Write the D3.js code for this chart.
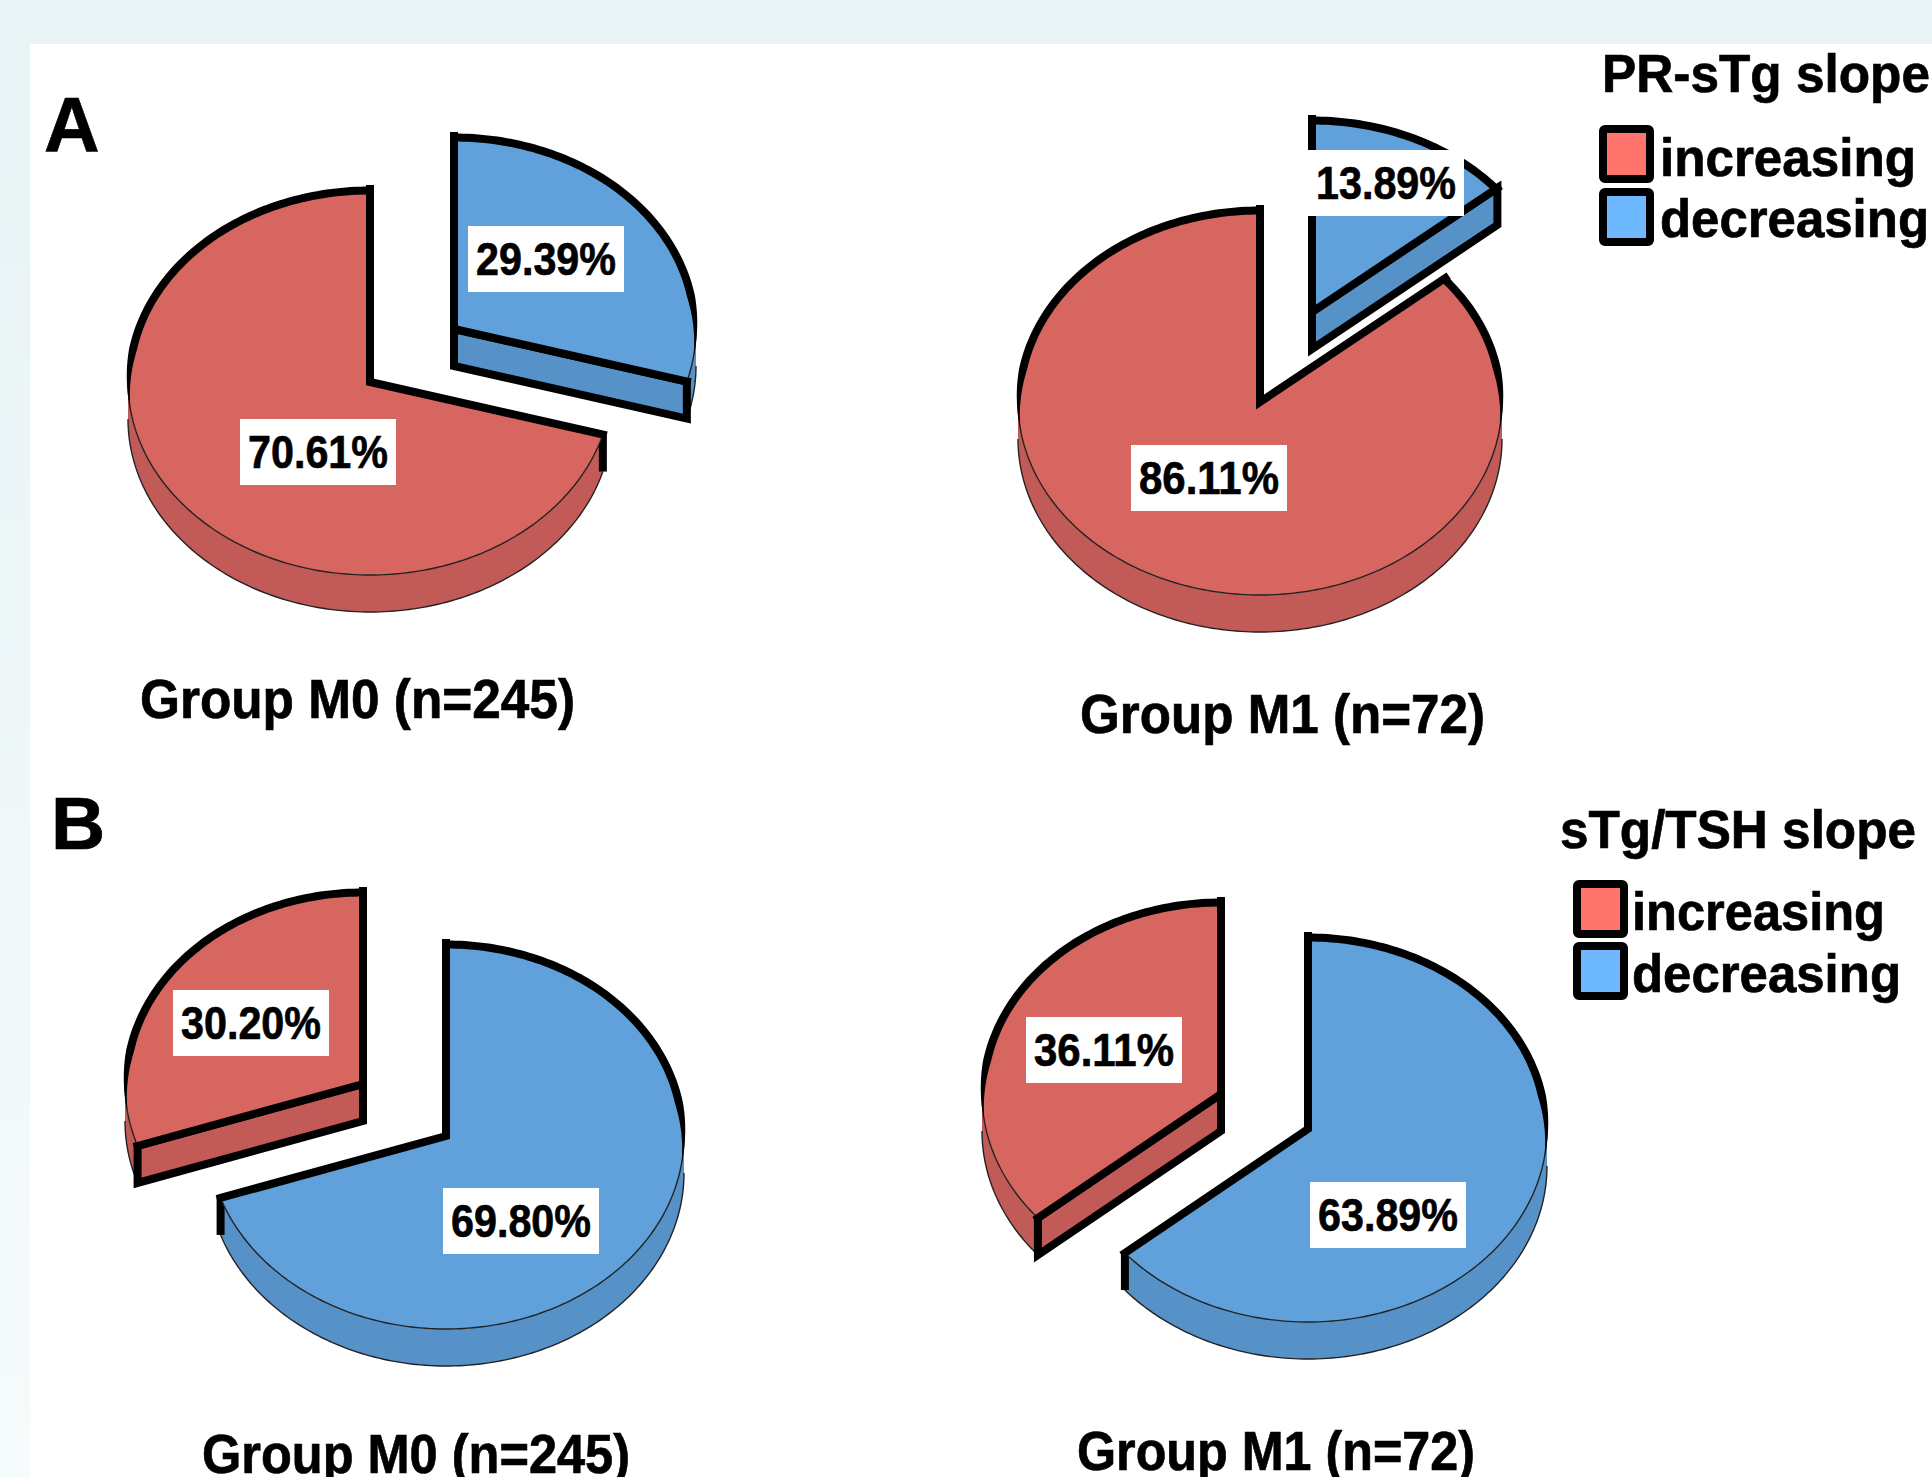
<!DOCTYPE html>
<html>
<head>
<meta charset="utf-8">
<title>PR-sTg and sTg/TSH slope by group</title>
<script src="https://cdn.jsdelivr.net/npm/d3@7/dist/d3.min.js"></script>
<style>
  html, body { margin: 0; padding: 0; background: #fff; overflow: hidden; }
  svg { display: block; }
  text { font-family: "Liberation Sans", Arial, sans-serif; font-weight: 700; fill: #000; stroke: #000; stroke-width: 0.7; }
</style>
</head>
<body>
<svg id="chart" width="1932" height="1477"></svg>
<script>
// Values, in the order the four pies are drawn: panel A M0, A M1, panel B M0, B M1
const pieTitles = ["Group M0 (n=245)", "Group M1 (n=72)", "Group M0 (n=245)", "Group M1 (n=72)"];
const decreasingShare = [29.39, 13.89, 69.80, 63.89];
const increasingShare = [70.61, 86.11, 30.20, 36.11];
const slopeClasses = ["increasing", "decreasing"];
const legendTitles = ["PR-sTg slope", "sTg/TSH slope"];
const panelLetters = ["A", "B"];

// Layout: pie centres, how far the small slice is pulled out, and label anchors
const RY = 193, DEPTH = 37;
const pieLayout = [
  { cx: 370,  cy: 382,  rx: 242, pull: [84, -53],  pulled: 0, labels: [[546, 259], [318, 452]],  title: [140, 718, 435] },
  { cx: 1260, cy: 402,  rx: 242, pull: [52, -90],  pulled: 0, labels: [[1386, 183], [1209, 478]], title: [1080, 733, 405] },
  { cx: 446,  cy: 1136, rx: 238, pull: [-83, -52], pulled: 1, labels: [[521, 1221], [251, 1023]], title: [202, 1473, 428] },
  { cx: 1308, cy: 1129, rx: 239, pull: [-87, -35], pulled: 1, labels: [[1388, 1215], [1104, 1050]], title: [1077, 1470, 398] }
];
const legendLayout = [
  { title: [1602, 92, 328],  swatchX: 1603, swatchW: 47, rows: [[129, 1660, 176, 256], [192, 1660, 237, 269]] },
  { title: [1560, 848, 356], swatchX: 1577, swatchW: 47, rows: [[884, 1632, 930, 253], [946, 1632, 992, 269]] }
];
const letterLayout = [[44, 152, 77], [51, 849, 75]];

const topFill   = { increasing: "#d86660", decreasing: "#60a1db" };
const wallFill  = { increasing: "#c25b58", decreasing: "#5691c8" };
const keyFill   = { increasing: "#ff756e", decreasing: "#6eb8ff" };
const THICK = 8, THIN = 1.4;
const RIM_OUT = 2.5, RIM_IN = 5.5;   // heavy rim line either side of the ellipse
const deg = Math.PI / 180;
const RIM_OVERRUN = 8 * deg, RIM_TAPER = 18 * deg;

const svg = d3.select("#chart");
const defs = svg.append("defs");
const grad = defs.append("linearGradient").attr("id", "pageTint")
  .attr("x1", 0).attr("y1", 0).attr("x2", 0).attr("y2", 1);
grad.append("stop").attr("offset", "0%").attr("stop-color", "#e7f3f5");
grad.append("stop").attr("offset", "100%").attr("stop-color", "#f6fbfc");

svg.append("rect").attr("width", 1932).attr("height", 1477).attr("fill", "url(#pageTint)");
svg.append("rect").attr("x", 30).attr("y", 44).attr("width", 1902).attr("height", 1433).attr("fill", "#fff");

const pie = d3.pie().sort(null).value(d => d.value).startAngle(0).endAngle(2 * Math.PI);
const unitArc = d3.arc().innerRadius(0).outerRadius(1);
const line = d3.line();
const HALF = Math.PI / 2, LOWER_END = 3 * Math.PI / 2;

function drawSlice(g, cx, cy, rx, slice) {
  const cls = slice.data.cls;
  const a0 = slice.startAngle, a1 = slice.endAngle;
  const at = (a, grow = 0, dz = 0) => [
    cx + (rx + grow) * Math.sin(a),
    cy - (RY + grow) * Math.cos(a) + dz
  ];
  const angles = (from, to) => {
    const n = Math.max(2, Math.ceil((to - from) / 0.02));
    return d3.range(n + 1).map(i => from + (to - from) * i / n);
  };
  const sweep = (from, to, dz = 0) => angles(from, to).map(a => at(a, 0, dz));
  const apex = [cx, cy];
  const apexLow = [cx, cy + DEPTH];

  // Curved wall: only the part on the near half of the rim can be seen
  const w0 = Math.max(a0, HALF), w1 = Math.min(a1, LOWER_END);
  if (w1 > w0) {
    const outline = sweep(w0, w1).concat(sweep(w0, w1, DEPTH).reverse());
    g.append("path").attr("d", line(outline) + "Z").attr("fill", wallFill[cls]);
    g.append("path").attr("d", line(sweep(w0, w1, DEPTH)))
      .attr("fill", "none").attr("stroke", "#222").attr("stroke-width", THIN);
  }

  // Flat cut walls that face the viewer
  const frontEdges = [];
  if (Math.sin(a1) > 1e-6) frontEdges.push(a1);
  if (Math.sin(a0) < -1e-6) frontEdges.push(a0);
  frontEdges.forEach(a => {
    g.append("path").attr("d", line([apex, at(a), at(a, 0, DEPTH), apexLow]) + "Z")
      .attr("fill", wallFill[cls]).attr("stroke", "#000")
      .attr("stroke-width", THICK).attr("stroke-linejoin", "miter");
  });

  // Corner of a hidden cut on the near side of the rim
  [a0, a1].forEach(a => {
    if (a > HALF && a < LOWER_END && !frontEdges.includes(a)) {
      g.append("path").attr("d", line([at(a), at(a, 0, DEPTH)]))
        .attr("stroke", "#000").attr("stroke-width", THICK).attr("fill", "none");
    }
  });

  // Top face
  g.append("path")
    .attr("d", unitArc({ startAngle: a0, endAngle: a1 }))
    .attr("transform", `translate(${cx},${cy}) scale(${rx},${RY})`)
    .attr("fill", topFill[cls]);

  // Fine line on the near half of the top rim
  if (w1 > w0) {
    g.append("path").attr("d", line(sweep(w0, w1)))
      .attr("fill", "none").attr("stroke", "#222").attr("stroke-width", THIN);
  }

  // Heavy rim on the far half, tapering away as it reaches the sides
  const taper = a => {
    const nearest = a <= Math.PI ? HALF - a : a - LOWER_END;
    return Math.max(0, Math.min(1, (nearest + RIM_OVERRUN) / RIM_TAPER));
  };
  [[a0, Math.min(a1, HALF + RIM_OVERRUN)], [Math.max(a0, LOWER_END - RIM_OVERRUN), a1]]
    .filter(([from, to]) => to > from)
    .forEach(([from, to]) => {
      const as = angles(from, to);
      const outer = as.map(a => at(a, RIM_OUT * taper(a)));
      const inner = as.map(a => at(a, -RIM_IN * taper(a))).reverse();
      g.append("path").attr("d", line(outer.concat(inner)) + "Z").attr("fill", "#000");
    });

  // Heavy line down both cuts
  g.append("path").attr("d", line([at(a1), apex, at(a0)]))
    .attr("fill", "none").attr("stroke", "#000")
    .attr("stroke-width", THICK).attr("stroke-linejoin", "miter")
    .attr("stroke-miterlimit", 8).attr("stroke-linecap", "square");
}

function fittedText(parent, str, xPos, yPos, size, width, anchor = "start") {
  return parent.append("text")
    .attr("x", xPos).attr("y", yPos)
    .attr("font-size", size)
    .attr("text-anchor", anchor)
    .attr("textLength", width)
    .attr("lengthAdjust", "spacingAndGlyphs")
    .text(str);
}

const formatShare = d3.format(".2f");

pieLayout.forEach((pl, i) => {
  const g = svg.append("g").attr("class", "pie");
  const slices = pie([
    { cls: "decreasing", value: decreasingShare[i] },
    { cls: "increasing", value: increasingShare[i] }
  ]);
  slices.forEach((s, j) => {
    const off = j === pl.pulled ? pl.pull : [0, 0];
    drawSlice(g, pl.cx + off[0], pl.cy + off[1], pl.rx, s);
  });
  slices.forEach((s, j) => {
    const [lx, ly] = pl.labels[j];
    g.append("rect").attr("x", lx - 78).attr("y", ly - 33)
      .attr("width", 156).attr("height", 66).attr("fill", "#fff");
    fittedText(g, formatShare(s.data.value) + "%", lx, ly + 16, 47, 140, "middle");
  });
  fittedText(svg, pieTitles[i], pl.title[0], pl.title[1], 56, pl.title[2]);
});

legendLayout.forEach((ll, i) => {
  const g = svg.append("g").attr("class", "legend");
  fittedText(g, legendTitles[i], ll.title[0], ll.title[1], 54, ll.title[2]);
  ll.rows.forEach((row, j) => {
    g.append("rect").attr("x", ll.swatchX).attr("y", row[0])
      .attr("width", ll.swatchW).attr("height", 50).attr("rx", 2)
      .attr("fill", keyFill[slopeClasses[j]])
      .attr("stroke", "#000").attr("stroke-width", 8);
    fittedText(g, slopeClasses[j], row[1], row[2], 54, row[3]);
  });
});

panelLetters.forEach((letter, i) => {
  const [lx, ly, size] = letterLayout[i];
  svg.append("text").attr("x", lx).attr("y", ly).attr("font-size", size).text(letter);
});
</script>
</body>
</html>
